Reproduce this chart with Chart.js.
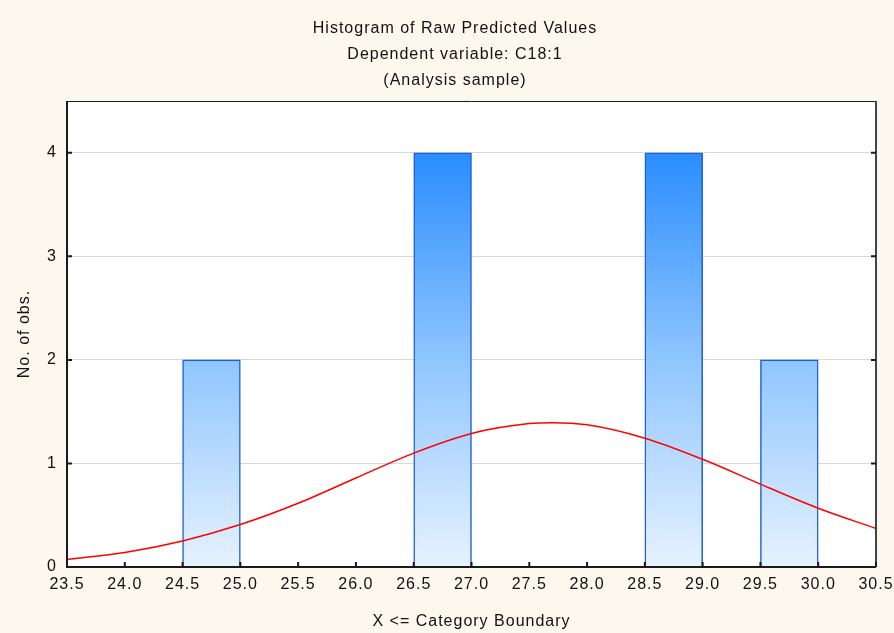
<!DOCTYPE html>
<html>
<head>
<meta charset="utf-8">
<script src="https://cdn.jsdelivr.net/npm/chart.js@4.4.0/dist/chart.umd.min.js"></script>
<style>
  html, body { margin: 0; padding: 0; background: #fdf8ee; }
  #wrap { width: 894px; height: 633px; }
</style>
</head>
<body>
<div id="wrap"><canvas id="myChart"></canvas></div>
<script>
// histogram bins (centre of each 0.5 wide bin) and counts
const binCenters = [24.75, 26.75, 28.75, 29.75];
const counts = [2, 4, 4, 2];
// expected normal curve
const curveX = [23.5, 24.0, 24.5, 25.0, 25.5, 26.0, 26.5, 27.0, 27.5, 27.7, 28.0, 28.5, 29.0, 29.5, 30.0, 30.5];
const curveY = [0.073, 0.141, 0.252, 0.41, 0.615, 0.86, 1.1, 1.29, 1.385, 1.394, 1.373, 1.244, 1.04, 0.8, 0.567, 0.372];
const titleLines = ["Histogram of Raw Predicted Values", "Dependent variable: C18:1", "(Analysis sample)"];
const xTitle = "X <= Category Boundary";
const yTitle = "No. of obs.";

const FONT = "'Liberation Sans', Arial, sans-serif";

function barGradient(ctx) {
  const area = ctx.chart.chartArea;
  if (!area) return "#8ec5ff";
  const g = ctx.chart.ctx.createLinearGradient(0, area.top, 0, area.bottom);
  g.addColorStop(0, "#1880ff");
  g.addColorStop(0.11, "#2a8cff");
  g.addColorStop(0.55, "#8ec5ff");
  g.addColorStop(1, "#e6f2ff");
  return g;
}

// letter spacing like the original GDI text
const spacing = {
  id: "spacing",
  beforeLayout(chart) { chart.ctx.letterSpacing = "1px"; },
  beforeDraw(chart) { chart.ctx.letterSpacing = "1px"; },
};

// white plot background
const plotBg = {
  id: "plotBg",
  beforeDatasetsDraw(chart) {
    const { ctx, chartArea: a } = chart;
    ctx.save();
    ctx.fillStyle = "#ffffff";
    ctx.globalCompositeOperation = "destination-over";
    ctx.fillRect(a.left, a.top, a.right - a.left, a.bottom - a.top);
    ctx.restore();
  },
};

// three title lines, a bit right of the canvas centre like the original
const titleText = {
  id: "titleText",
  afterDraw(chart) {
    const ctx = chart.ctx;
    ctx.save();
    ctx.letterSpacing = "1px";
    ctx.fillStyle = "#111";
    ctx.font = "16px " + FONT;
    ctx.textAlign = "center";
    ctx.textBaseline = "middle";
    titleLines.forEach((t, i) => ctx.fillText(t, 455, 29 + i * 26));
    ctx.restore();
  },
};

// frame and inward tick marks
const frame = {
  id: "frame",
  afterDraw(chart) {
    const { ctx, chartArea: a, scales } = chart;
    ctx.save();
    ctx.strokeStyle = "#1a1a1a";
    ctx.lineWidth = 1;
    ctx.beginPath();
    ctx.moveTo(a.left, a.top + 0.5);
    ctx.lineTo(a.right, a.top + 0.5);
    ctx.stroke();
    ctx.lineWidth = 2;
    ctx.beginPath();
    ctx.moveTo(a.left, a.top);
    ctx.lineTo(a.left, a.bottom);
    ctx.lineTo(a.right, a.bottom);
    ctx.stroke();
    ctx.strokeStyle = "#444";
    ctx.beginPath();
    ctx.moveTo(a.right, a.top);
    ctx.lineTo(a.right, a.bottom);
    ctx.stroke();
    ctx.strokeStyle = "#1a1a1a";
    scales.x.ticks.forEach((t) => {
      const px = scales.x.getPixelForValue(t.value);
      ctx.beginPath();
      ctx.moveTo(px, a.bottom);
      ctx.lineTo(px, a.bottom - 5);
      ctx.stroke();
    });
    scales.y.ticks.forEach((t) => {
      const py = scales.y.getPixelForValue(t.value);
      ctx.beginPath();
      ctx.moveTo(a.left, py);
      ctx.lineTo(a.left + 5, py);
      ctx.moveTo(a.right, py);
      ctx.lineTo(a.right - 5, py);
      ctx.stroke();
    });
    ctx.restore();
  },
};

const data = {
  datasets: [
    {
      type: "line",
      data: curveX.map((x, i) => ({ x: x, y: curveY[i] })),
      borderColor: "#ff0000",
      borderWidth: 1.5,
      pointRadius: 0,
      cubicInterpolationMode: "monotone",
      fill: false,
      order: 0,
    },
    {
      type: "bar",
      data: binCenters.map((x, i) => ({ x: x, y: counts[i] })),
      backgroundColor: barGradient,
      borderColor: "#1f5fd6",
      borderWidth: 1.5,
      barPercentage: 1,
      categoryPercentage: 1,
      order: 1,
    },
  ],
};

const config = {
  type: "bar",
  data: data,
  plugins: [spacing, plotBg, frame, titleText],
  options: {
    responsive: true,
    maintainAspectRatio: false,
    animation: false,
    layout: { padding: { left: 0, right: 0, top: 101, bottom: 0 } },
    plugins: {
      legend: { display: false },
      tooltip: { enabled: false },
      title: { display: false },
    },
    scales: {
      x: {
        type: "linear",
        offset: false,
        min: 23.5,
        max: 30.5,
        grid: { display: false, drawTicks: false },
        border: { display: false },
        ticks: {
          stepSize: 0.5,
          padding: 8,
          color: "#111",
          font: { family: FONT, size: 16 },
          maxRotation: 0,
          autoSkip: false,
          callback: (v) => v.toFixed(1),
        },
        title: {
          display: true,
          text: xTitle,
          color: "#111",
          font: { family: FONT, size: 16 },
          padding: { top: 0, bottom: 2 },
        },
        afterFit: (scale) => {
          scale.height = 66;
          scale.paddingLeft = 0;
          scale.paddingRight = 18;
        },
      },
      y: {
        min: 0,
        max: 4.5,
        grid: { color: "#d9d9d9", lineWidth: 1, drawTicks: false },
        border: { display: false },
        ticks: {
          stepSize: 1,
          includeBounds: false,
          padding: 10,
          color: "#111",
          font: { family: FONT, size: 16 },
        },
        title: {
          display: true,
          text: yTitle,
          color: "#111",
          font: { family: FONT, size: 16 },
          padding: { top: 15, bottom: 0 },
        },
        afterFit: (scale) => {
          scale.width = 67;
          scale.paddingTop = 0;
          scale.paddingBottom = 0;
        },
      },
    },
  },
};

const myChart = new Chart(document.getElementById("myChart"), config);
</script>
</body>
</html>
